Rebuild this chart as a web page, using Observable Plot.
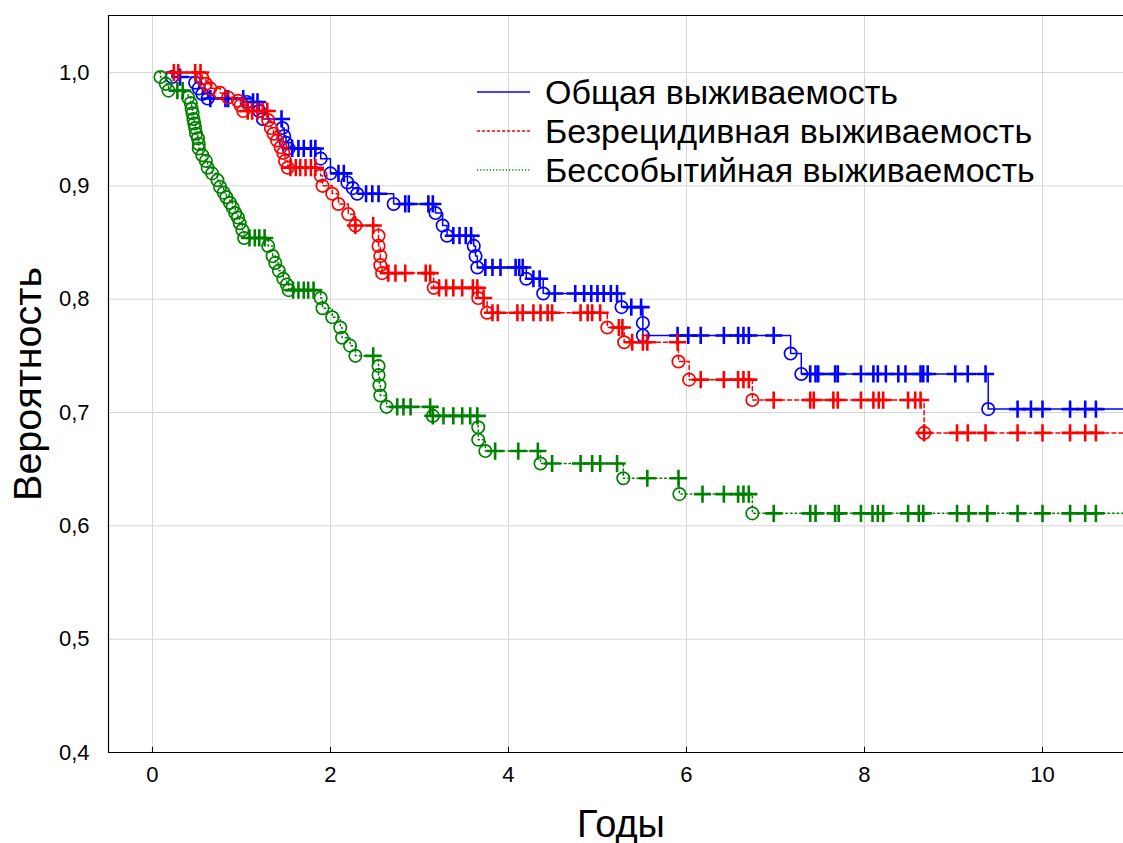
<!DOCTYPE html>
<html>
<head>
<meta charset="utf-8">
<script src="https://cdn.jsdelivr.net/npm/d3@7"></script>
<script src="https://cdn.jsdelivr.net/npm/@observablehq/plot@0.6"></script>
<style>
  html, body { margin: 0; padding: 0; background: white; }
  #chart { position: relative; width: 1123px; height: 843px; }
</style>
</head>
<body>
<div id="chart"></div>
<script>
// ---------- data (years, survival probability) ----------
const xTicks = [0, 2, 4, 6, 8, 10];
const yTicks = [0.4, 0.5, 0.6, 0.7, 0.8, 0.9, 1.0];
const seriesNames = ["Общая выживаемость", "Безрецидивная выживаемость", "Бессобытийная выживаемость"];
const xLabel = "Годы";
const yLabel = "Вероятность";
const startTimes = [0.2, 0.2, 0.08];
const followUpEnd = 10.91;

const blueEvents = [[0.22,0.996],[0.48,0.991],[0.52,0.986],[0.56,0.981],[0.62,0.977],[1.06,0.974],[1.20,0.966],[1.24,0.959],[1.46,0.951],[1.48,0.944],[1.50,0.938],[1.53,0.933],[1.89,0.924],[2.00,0.911],[2.19,0.903],[2.25,0.898],[2.30,0.893],[2.71,0.884],[3.18,0.876],[3.26,0.865],[3.31,0.856],[3.61,0.847],[3.63,0.838],[3.65,0.828],[4.20,0.818],[4.39,0.805],[5.27,0.793],[5.51,0.779],[5.51,0.768],[7.17,0.752],[7.29,0.734],[9.39,0.703]];
const blueCensored = [[0.31,0.996],[0.65,0.977],[0.82,0.977],[0.85,0.977],[1.02,0.977],[1.13,0.974],[1.18,0.974],[1.45,0.959],[1.57,0.933],[1.64,0.933],[1.70,0.933],[1.78,0.933],[1.83,0.933],[2.09,0.911],[2.15,0.911],[2.40,0.893],[2.47,0.893],[2.54,0.893],[2.84,0.884],[2.88,0.884],[3.10,0.884],[3.15,0.884],[3.38,0.856],[3.45,0.856],[3.52,0.856],[3.58,0.856],[3.74,0.828],[3.82,0.828],[3.91,0.828],[4.08,0.828],[4.12,0.828],[4.16,0.828],[4.28,0.818],[4.35,0.818],[4.52,0.805],[4.75,0.805],[4.85,0.805],[4.93,0.805],[5.00,0.805],[5.07,0.805],[5.15,0.805],[5.22,0.805],[5.38,0.793],[5.49,0.793],[5.90,0.768],[6.02,0.768],[6.16,0.768],[6.42,0.768],[6.58,0.768],[6.64,0.768],[6.70,0.768],[6.98,0.768],[7.39,0.734],[7.45,0.734],[7.48,0.734],[7.67,0.734],[7.70,0.734],[7.96,0.734],[8.10,0.734],[8.15,0.734],[8.24,0.734],[8.38,0.734],[8.46,0.734],[8.63,0.734],[8.66,0.734],[8.71,0.734],[9.02,0.734],[9.16,0.734],[9.36,0.734],[9.72,0.703],[9.87,0.703],[10.0,0.703],[10.31,0.703],[10.48,0.703],[10.60,0.703]];

const redEvents = [[0.56,0.995],[0.60,0.990],[0.65,0.986],[0.76,0.982],[0.85,0.978],[0.96,0.975],[0.99,0.971],[1.02,0.966],[1.30,0.958],[1.33,0.951],[1.36,0.946],[1.40,0.940],[1.44,0.934],[1.47,0.929],[1.49,0.922],[1.52,0.916],[1.89,0.909],[1.91,0.900],[2.02,0.893],[2.09,0.884],[2.20,0.875],[2.28,0.865],[2.54,0.856],[2.54,0.847],[2.56,0.838],[2.56,0.830],[2.58,0.823],[3.16,0.810],[3.66,0.801],[3.76,0.788],[5.11,0.775],[5.30,0.762],[5.91,0.745],[6.03,0.729],[6.74,0.711],[8.67,0.682]];
const redCensored = [[0.24,1],[0.29,1],[0.48,1],[0.54,1],[1.07,0.966],[1.12,0.966],[1.18,0.966],[1.24,0.966],[1.29,0.966],[1.55,0.916],[1.61,0.916],[1.66,0.916],[1.72,0.916],[1.78,0.916],[1.83,0.916],[2.28,0.865],[2.48,0.865],[2.65,0.823],[2.73,0.823],[2.84,0.823],[3.07,0.823],[3.12,0.823],[3.22,0.810],[3.30,0.810],[3.38,0.810],[3.48,0.810],[3.60,0.810],[3.65,0.810],[3.72,0.801],[3.82,0.788],[3.88,0.788],[4.10,0.788],[4.16,0.788],[4.28,0.788],[4.36,0.788],[4.44,0.788],[4.49,0.788],[4.81,0.788],[4.89,0.788],[4.94,0.788],[5.03,0.788],[5.24,0.775],[5.28,0.775],[5.39,0.762],[5.51,0.762],[5.56,0.762],[5.90,0.762],[6.16,0.729],[6.42,0.729],[6.58,0.729],[6.64,0.729],[6.70,0.729],[6.98,0.711],[7.39,0.711],[7.43,0.711],[7.65,0.711],[7.70,0.711],[7.96,0.711],[8.10,0.711],[8.16,0.711],[8.21,0.711],[8.49,0.711],[8.57,0.711],[8.63,0.711],[8.67,0.682],[9.04,0.682],[9.16,0.682],[9.36,0.682],[9.72,0.682],[10.0,0.682],[10.31,0.682],[10.48,0.682],[10.60,0.682]];

const greenEvents = [[0.09,0.996],[0.15,0.990],[0.18,0.984],[0.40,0.978],[0.43,0.973],[0.44,0.968],[0.45,0.964],[0.46,0.959],[0.47,0.955],[0.48,0.951],[0.49,0.946],[0.51,0.942],[0.52,0.937],[0.52,0.933],[0.56,0.927],[0.60,0.922],[0.62,0.916],[0.67,0.911],[0.73,0.905],[0.76,0.899],[0.80,0.894],[0.83,0.890],[0.87,0.885],[0.90,0.881],[0.93,0.876],[0.96,0.872],[0.98,0.867],[1.01,0.861],[1.03,0.854],[1.30,0.847],[1.35,0.838],[1.38,0.832],[1.42,0.825],[1.47,0.818],[1.51,0.813],[1.53,0.808],[1.89,0.801],[1.91,0.792],[2.02,0.784],[2.11,0.775],[2.13,0.766],[2.22,0.759],[2.28,0.750],[2.54,0.741],[2.54,0.733],[2.55,0.724],[2.56,0.715],[2.63,0.705],[3.15,0.697],[3.66,0.687],[3.66,0.676],[3.74,0.666],[4.36,0.655],[5.29,0.642],[5.92,0.628],[6.74,0.611]];
const greenCensored = [[0.28,0.984],[0.34,0.984],[1.09,0.854],[1.15,0.854],[1.20,0.854],[1.26,0.854],[1.58,0.808],[1.64,0.808],[1.70,0.808],[1.75,0.808],[1.81,0.808],[2.48,0.750],[2.75,0.705],[2.82,0.705],[2.90,0.705],[3.12,0.705],[3.15,0.697],[3.27,0.697],[3.38,0.697],[3.48,0.697],[3.57,0.697],[3.65,0.697],[3.85,0.666],[4.11,0.666],[4.33,0.666],[4.49,0.655],[4.81,0.655],[4.94,0.655],[5.03,0.655],[5.22,0.655],[5.56,0.642],[5.91,0.642],[6.18,0.628],[6.42,0.628],[6.58,0.628],[6.64,0.628],[6.70,0.628],[6.98,0.611],[7.39,0.611],[7.45,0.611],[7.67,0.611],[7.71,0.611],[7.96,0.611],[8.09,0.611],[8.15,0.611],[8.21,0.611],[8.49,0.611],[8.61,0.611],[8.66,0.611],[9.04,0.611],[9.17,0.611],[9.38,0.611],[9.72,0.611],[10.0,0.611],[10.31,0.611],[10.48,0.611],[10.60,0.611]];

// ---------- styling ----------
const colors = ["#0000ff", "#ff0000", "#008000"];
const dashes = [null, "4,3", "1.6,3"];
const legendDashes = [null, "3,2", "1.2,2"];
const font = "'Liberation Sans', Arial, Helvetica, sans-serif";

const events = [blueEvents, redEvents, greenEvents];
const censored = [blueCensored, redCensored, greenCensored];

function stepData(ev, start) {
  const pts = [[start, 1], ...ev];
  pts.push([followUpEnd, ev[ev.length - 1][1]]);
  return pts;
}

const xDomain = [-0.494, 10.91];
const yDomain = [0.4, 1.0503];

const curveMarks = [];
for (let i = 0; i < 3; i++) {
  curveMarks.push(
    Plot.line(stepData(events[i], startTimes[i]), {
      x: d => d[0], y: d => d[1], curve: "step-after",
      stroke: colors[i], strokeWidth: 1.5, strokeDasharray: dashes[i], clip: true
    }),
    Plot.dot(events[i], {
      x: d => d[0], y: d => d[1], r: 6.2, fill: "none",
      stroke: colors[i], strokeWidth: 1.7, clip: true
    }),
    Plot.dot(censored[i], {
      x: d => d[0], y: d => d[1], r: 5.6, symbol: "plus",
      stroke: colors[i], strokeWidth: 2.6, clip: true
    })
  );
}

const chart = Plot.plot({
  width: 1123,
  height: 843,
  marginLeft: 108,
  marginTop: 15,
  marginRight: 0,
  marginBottom: 91,
  style: { fontFamily: font, background: "white", color: "black", overflow: "visible" },
  x: { domain: xDomain },
  y: { domain: yDomain },
  marks: [
    Plot.gridX(xTicks, { stroke: "#d6d6d6", strokeOpacity: 1, strokeWidth: 1 }),
    Plot.gridY(yTicks.filter(d => d > 0.4), { stroke: "#d6d6d6", strokeOpacity: 1, strokeWidth: 1 }),
    Plot.axisX(xTicks, { tickSize: 0, tickPadding: 14, fontSize: 22, label: null, tickFormat: d => String(d) }),
    Plot.axisY(yTicks, { tickSize: 0, tickPadding: 19, fontSize: 22, label: null, tickFormat: d => d.toFixed(1).replace(".", ",") }),
    Plot.ruleX(xTicks, { y1: 0.4, y2: 0.4045, stroke: "black" }),
    Plot.ruleY([yDomain[0]], { stroke: "black", strokeWidth: 1.2 }),
    Plot.ruleY([yDomain[1]], { stroke: "black", strokeWidth: 1 }),
    Plot.ruleX([xDomain[0]], { stroke: "black", strokeWidth: 1.2 }),
    ...curveMarks,
    Plot.text([yLabel], { frameAnchor: "left", textAnchor: "middle", lineAnchor: "middle", dx: -80, rotate: -90, fontSize: 39.5, fill: "black" }),
    Plot.text([xLabel], { frameAnchor: "bottom", textAnchor: "middle", lineAnchor: "middle", dx: 5, dy: 72, fontSize: 38, fill: "black" })
  ]
});

document.getElementById("chart").appendChild(chart);

// ---------- legend (inside the plot, top right) ----------
const svg = d3.select(chart);
const lg = svg.append("g").attr("font-family", font).attr("text-anchor", "start");
const rowY = [92, 131, 170];
seriesNames.forEach((name, i) => {
  lg.append("line")
    .attr("x1", 477).attr("x2", 530).attr("y1", rowY[i]).attr("y2", rowY[i])
    .attr("stroke", colors[i]).attr("stroke-width", 1.3)
    .attr("stroke-dasharray", legendDashes[i]);
  lg.append("text")
    .attr("x", 545).attr("y", rowY[i]).attr("dy", "0.36em")
    .attr("text-anchor", "start")
    .attr("font-size", 34).attr("fill", "black")
    .text(name);
});
</script>
</body>
</html>
